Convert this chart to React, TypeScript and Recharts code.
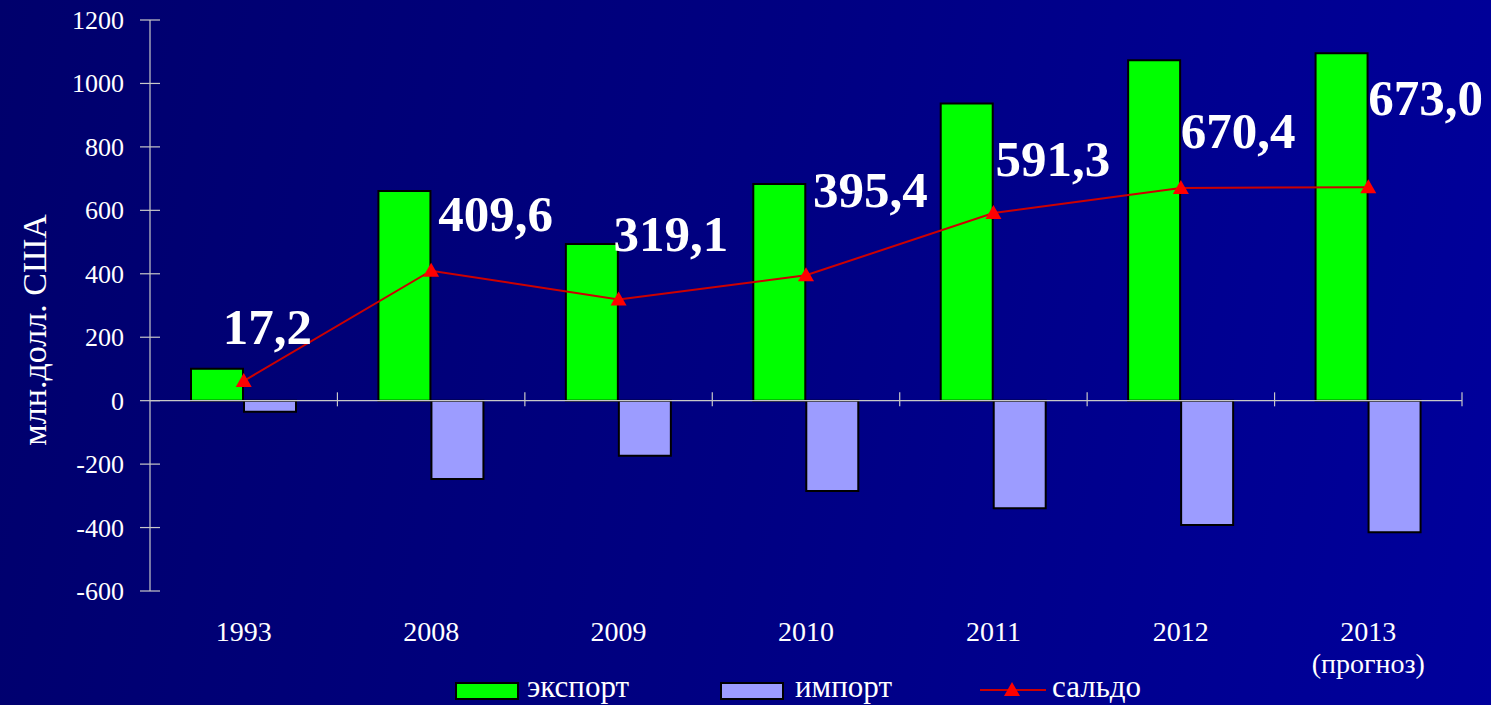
import React from "react";
import { ComposedChart, Bar, Line, XAxis, YAxis, ReferenceLine, LabelList, Legend } from "recharts";

const YEARS = ["1993", "2008", "2009", "2010", "2011", "2012", "2013"];
const YEAR_NOTES = ["", "", "", "", "", "", "(прогноз)"];
const EXPORT = [101, 661, 494, 683, 937, 1073, 1095];
const IMPORT = [-35, -247, -174, -285, -339, -392, -415];
const SALDO = [62, 409.6, 319.1, 395.4, 591.3, 670.4, 673.0];
const SALDO_LABELS = ["17,2", "409,6", "319,1", "395,4", "591,3", "670,4", "673,0"];
const Y_TICKS = [-600, -400, -200, 0, 200, 400, 600, 800, 1000, 1200];

// hand-placed label nudges (layout, not data)
const LABEL_NUDGE: [number, number][] = [
  [-21, -37],
  [7, -40],
  [-5, -48],
  [7, -68],
  [2, -37],
  [0, -40],
  [0, -72],
];

const W = 1491;
const H = 705;
const M = { top: 20, right: 29, left: 0, bottom: 30 };
const Y_W = 150;
const X_H = 56;
const PLOT_TOP = M.top;
const PLOT_BOTTOM = 589;
const ZERO_Y = PLOT_TOP + ((1200 - 0) / 1800) * (PLOT_BOTTOM - PLOT_TOP);
const BAND = (W - M.right - Y_W) / YEARS.length;

const FONT = '"Liberation Serif", "Times New Roman", serif';
const AXIS = "#c8c8c8";

const data = YEARS.map((y, i) => ({
  year: y,
  note: YEAR_NOTES[i],
  export: EXPORT[i],
  import: IMPORT[i],
  saldo: SALDO[i],
  label: SALDO_LABELS[i],
}));

const YTick = (props: any) => {
  const { y, payload } = props;
  return (
    <g>
      <line x1={Y_W - 10} x2={Y_W + 10} y1={y} y2={y} stroke={AXIS} strokeWidth={1.2} />
      <text x={Y_W - 26} y={y + 9} textAnchor="end" fill="#fff" fontSize={26} fontFamily={FONT}>
        {payload.value}
      </text>
    </g>
  );
};

const XTick = (props: any) => {
  const { x, payload, index } = props;
  const note = YEAR_NOTES[index];
  return (
    <g>
      <line x1={x + BAND / 2} x2={x + BAND / 2} y1={ZERO_Y - 7} y2={ZERO_Y + 7} stroke={AXIS} strokeWidth={1.2} />
      <text x={x} y={PLOT_BOTTOM + 52} textAnchor="middle" fill="#fff" fontSize={28} fontFamily={FONT}>
        {payload.value}
      </text>
      {note ? (
        <text x={x} y={PLOT_BOTTOM + 84} textAnchor="middle" fill="#fff" fontSize={28} fontFamily={FONT}>
          {note}
        </text>
      ) : null}
    </g>
  );
};

const Tri = (props: any) => {
  const { cx, cy } = props;
  if (cx == null || cy == null) return null;
  return <polygon points={`${cx},${cy - 8} ${cx - 8},${cy + 6} ${cx + 8},${cy + 6}`} fill="#ff0000" />;
};

const SaldoLabel = (props: any) => {
  const { x, y, index, value } = props;
  const [dx, dy] = LABEL_NUDGE[index] ?? [0, -40];
  return (
    <text x={x + dx} y={y + dy} fill="#fff" fontSize={51} fontWeight="bold" fontFamily={FONT}>
      {value}
    </text>
  );
};

const LegendContent = () => (
  <div style={{ position: "relative", height: 28, fontFamily: FONT, fontSize: 31, color: "#fff" }}>
    <div style={{ position: "absolute", left: 455, top: 5, width: 60, height: 14, background: "#00ff00", border: "2px solid #000" }} />
    <span style={{ position: "absolute", left: 527, top: -6, lineHeight: "32px" }}>экспорт</span>
    <div style={{ position: "absolute", left: 720, top: 5, width: 60, height: 14, background: "#9c9cff", border: "2px solid #000" }} />
    <span style={{ position: "absolute", left: 795, top: -6, lineHeight: "32px" }}>импорт</span>
    <svg style={{ position: "absolute", left: 978, top: 0 }} width={70} height={26}>
      <line x1={2} x2={68} y1={13} y2={13} stroke="#cc0000" strokeWidth={2} />
      <polygon points="34,5 26,19 42,19" fill="#ff0000" />
    </svg>
    <span style={{ position: "absolute", left: 1052, top: -6, lineHeight: "32px" }}>сальдо</span>
  </div>
);

export default function App() {
  return (
    <div
      style={{
        position: "absolute",
        left: 0,
        top: 0,
        width: W,
        height: H,
        overflow: "hidden",
        background: "linear-gradient(100deg, #00006c 0%, #000082 50%, #00009c 100%)",
      }}
    >
      <ComposedChart width={W} height={H} data={data} margin={M} barGap={1} barSize={52}>
        <XAxis
          dataKey="year"
          axisLine={false}
          tickLine={false}
          height={X_H}
          interval={0}
          tick={<XTick />}
        />
        <YAxis
          type="number"
          domain={[-600, 1200]}
          ticks={Y_TICKS}
          width={Y_W}
          axisLine={{ stroke: AXIS, strokeWidth: 1.2 }}
          tickLine={false}
          tick={<YTick />}
          interval={0}
          label={() => (
            <text
              transform="translate(46,330) rotate(-90)"
              textAnchor="middle"
              fill="#fff"
              fontSize={34}
              fontFamily={FONT}
            >
              млн.долл. США
            </text>
          )}
        />
        <Bar dataKey="export" fill="#00ff00" stroke="#000" strokeWidth={2} isAnimationActive={false} />
        <Bar dataKey="import" fill="#9c9cff" stroke="#000" strokeWidth={2} isAnimationActive={false} />
        <ReferenceLine y={0} stroke={AXIS} strokeWidth={1.2} />
        <Line
          dataKey="saldo"
          stroke="#cc0000"
          strokeWidth={2}
          dot={<Tri />}
          activeDot={false}
          isAnimationActive={false}
        >
          <LabelList dataKey="label" content={<SaldoLabel />} />
        </Line>
        <Legend
          verticalAlign="bottom"
          content={<LegendContent />}
          wrapperStyle={{ top: 677, bottom: "auto", left: 0, width: W, height: 28 }}
        />
      </ComposedChart>
    </div>
  );
}
